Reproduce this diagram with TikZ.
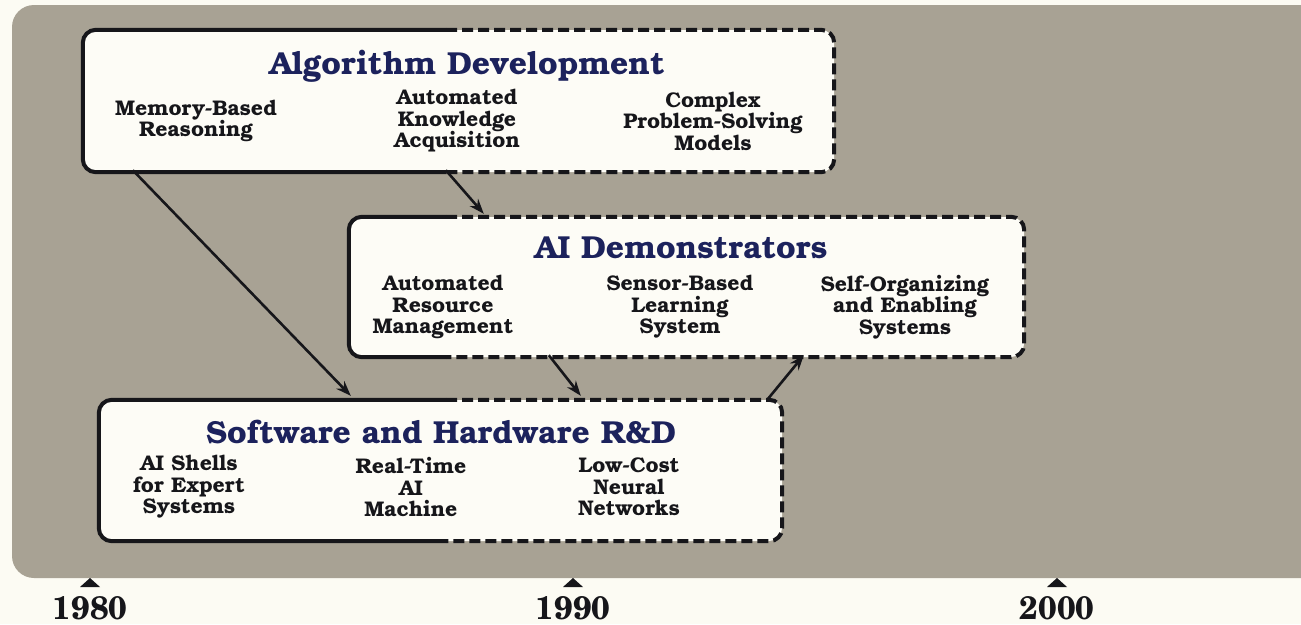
\documentclass[tikz,border=0pt]{standalone}
\usepackage{fontspec}
\setmainfont{TeX Gyre Bonum}
\newfontfamily\yearfont{TeX Gyre Schola}
\usetikzlibrary{calc,arrows.meta}
\definecolor{pagecol}{RGB}{252,251,243}
\definecolor{bggrey}{RGB}{168,162,148}
\definecolor{boxfill}{RGB}{253,252,246}
\definecolor{navy}{RGB}{28,34,92}
\definecolor{ink}{RGB}{22,22,26}
\tikzset{
  boxbody/.style={fill=boxfill, rounded corners=13pt, inner sep=0pt, draw=none},
  solidedge/.style={line width=4pt, rounded corners=13pt, draw=ink},
  dashedge/.style={line width=4pt, rounded corners=13pt, draw=ink, dash pattern=on 11pt off 5pt},
  title/.style={font=\bfseries\fontsize{31.8}{34}\selectfont, text=navy, inner sep=0pt},
  item/.style={font=\bfseries\fontsize{21.2}{21.5}\selectfont, text=ink, align=center, inner sep=0pt},
  arr/.style={line width=2.6pt, draw=ink, -{Stealth[length=15pt,width=11pt]}},
  year/.style={font=\yearfont\bfseries\fontsize{32.5}{34}\selectfont, text=ink, inner sep=0pt},
  tick/.style={fill=ink},
}
\begin{document}
\begin{tikzpicture}[x=1pt,y=-1pt]
\useasboundingbox (0,0) rectangle (1301,624);
\fill[pagecol] (0,0) rectangle (1301,624);
\fill[bggrey, rounded corners=22pt] (1330,5) -- (12,5) -- (12,578) -- (1330,578) -- cycle;
\coordinate (split) at (446,0);

% boxes
\node[boxbody, minimum width=751pt, minimum height=142pt] (b1) at (458.5,101) {};
\node[boxbody, minimum width=675pt, minimum height=140pt] (b2) at (686.5,287) {};
\node[boxbody, minimum width=683pt, minimum height=141pt] (b3) at (440.5,470.5) {};

\foreach \b in {b1,b2,b3}{
  \draw[solidedge] (split |- \b.north) -- (\b.north west) -- (\b.south west) -- (split |- \b.south);
  \draw[dashedge] (split |- \b.north) -- (\b.north east) -- (\b.south east) -- (split |- \b.south);
}

% box 1
\node[title] (t1) at (467,66) {Algorithm Development};
\node[item] (i11) at (196,121) {Memory-Based\\Reasoning};
\node[item] (i12) at (457,121) {Automated\\Knowledge\\Acquisition};
\node[item] (i13) at (713,121) {Complex\\Problem-Solving\\Models};

% box 2
\node[title] (t2) at (681,248) {AI Demonstrators};
\node[item] (i21) at (443,307) {Automated\\Resource\\Management};
\node[item] (i22) at (680,307) {Sensor-Based\\Learning\\System};
\node[item] (i23) at (905,307) {Self-Organizing\\and Enabling\\Systems};

% box 3
\node[title] (t3) at (441,432) {Software and Hardware R\&D};
\node[item] (i31) at (189,487) {AI Shells\\for Expert\\Systems};
\node[item] (i32) at (411,487) {Real-Time\\AI\\Machine};
\node[item] (i33) at (629,487) {Low-Cost\\Neural\\Networks};

% arrows
\draw[arr] ($(b1.south west)+(50,-2)$) -- ($(b3.north west)+(252,-4)$);
\draw[arr] ($(b1.south west)+(363,-2)$) -- ($(b2.north west)+(135,-3)$);
\draw[arr] ($(b2.south west)+(200,-2)$) -- ($(b3.north west)+(482,-4)$);
\draw[arr] ($(b3.north east)+(-15,0)$) -- ($(b2.south west)+(455,-2)$);

% timeline
\foreach \x/\y in {90/1980,573/1990,1057/2000}{
  \fill[tick] (\x-10,587) -- (\x,578) -- (\x+10,587) -- cycle;
  \node[year] (y\y) at (\x,608) {\y};
}
\end{tikzpicture}
\end{document}
